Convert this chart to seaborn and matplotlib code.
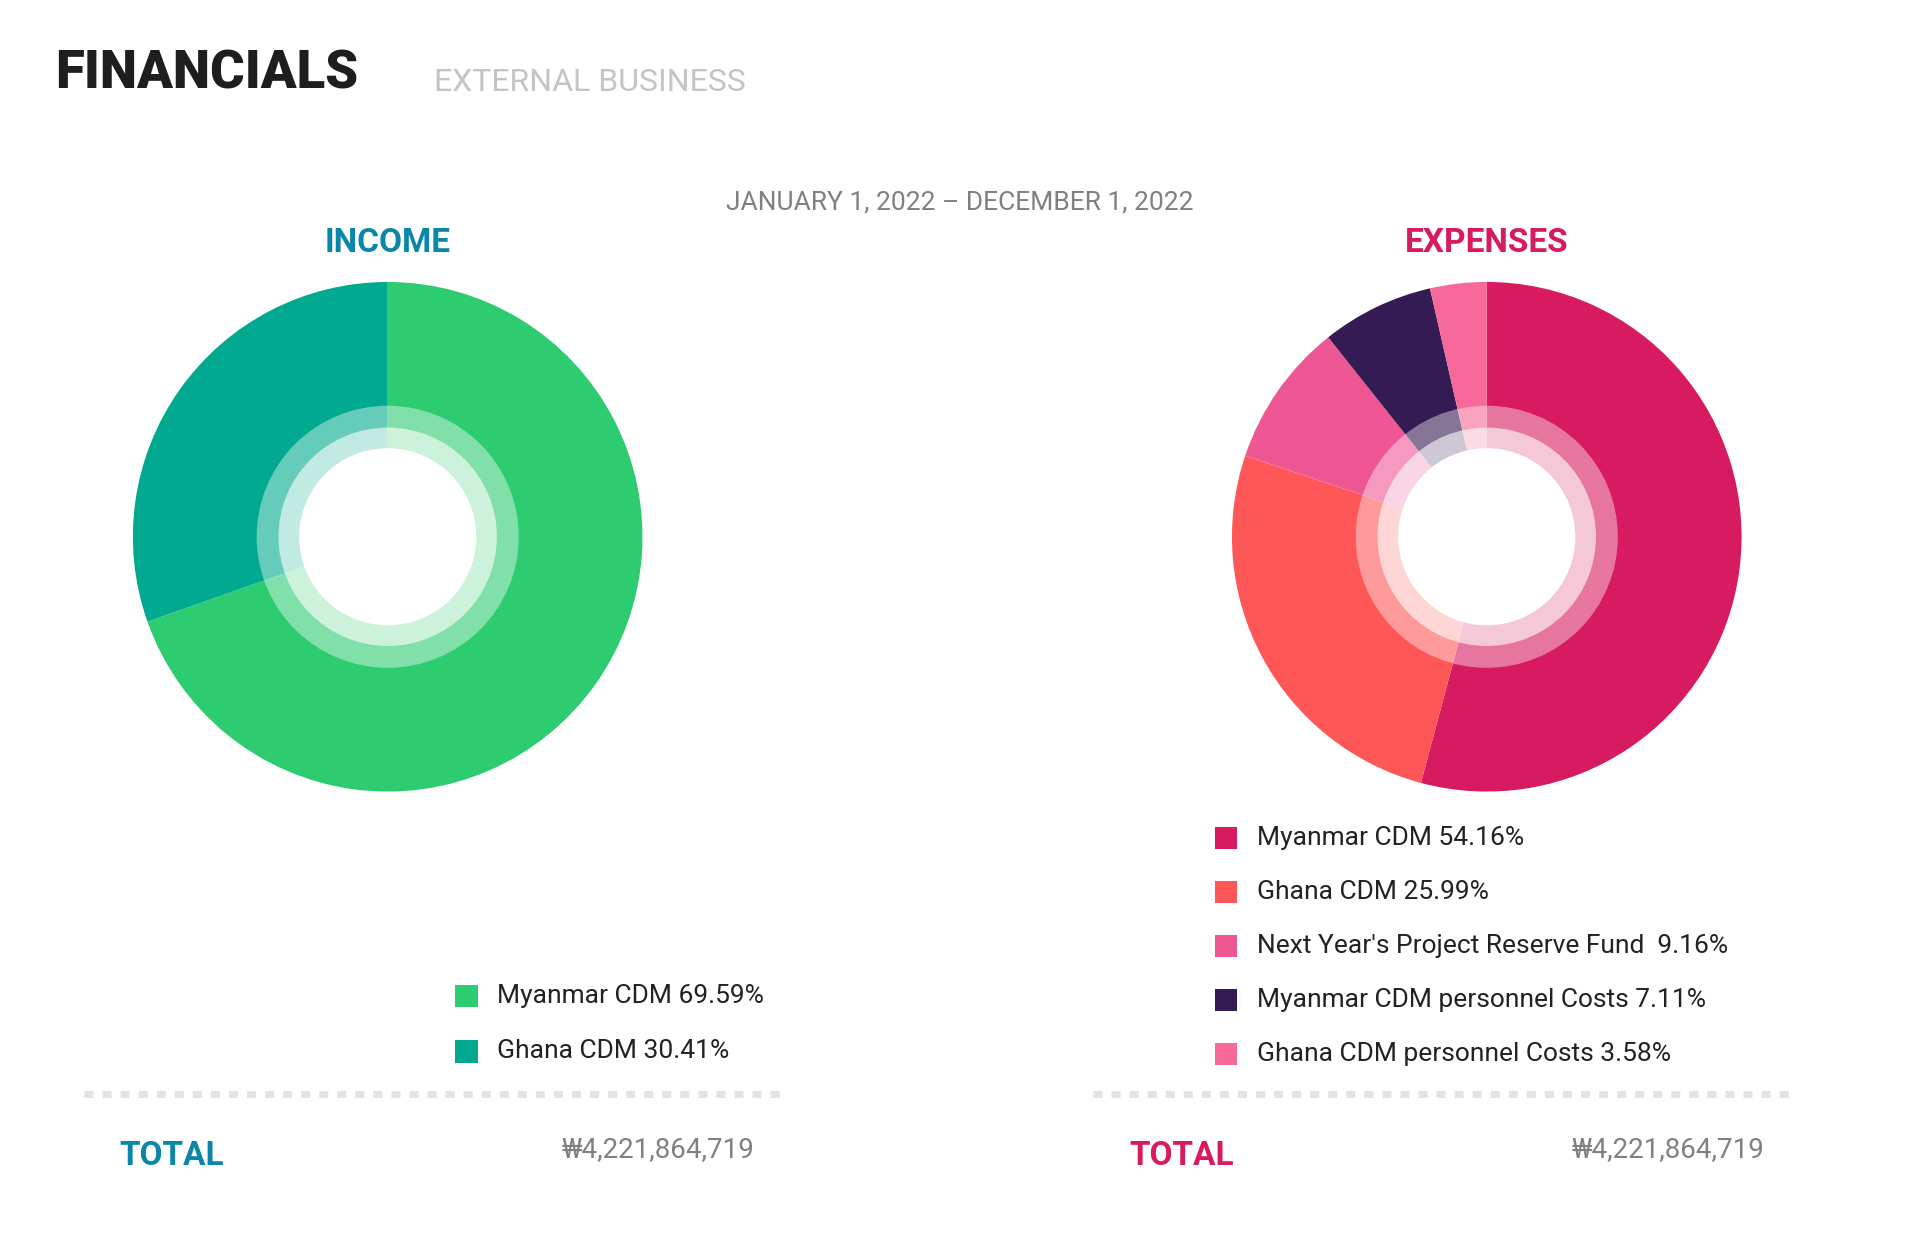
import matplotlib
matplotlib.use("Agg")
import matplotlib.pyplot as plt
import seaborn as sns
from matplotlib.patches import Circle, Rectangle

sns.set_theme(style="white")
plt.rcParams['font.family'] = ['Roboto', 'DejaVu Sans']

income_labels = ["Myanmar CDM", "Ghana CDM"]
income_values = [69.59, 30.41]
income_colors = ["#2ecc71", "#00a98f"]

expense_labels = ["Myanmar CDM", "Ghana CDM", "Next Year's Project Reserve Fund ",
                  "Myanmar CDM personnel Costs", "Ghana CDM personnel Costs"]
expense_values = [54.16, 25.99, 9.16, 7.11, 3.58]
expense_colors = ["#d81b60", "#ff5757", "#ef5794", "#341b54", "#f7699a"]

total_income = "₩4,221,864,719"
total_expense = "₩4,221,864,719"

W, H = 1560, 1020  # layout reference grid
fig = plt.figure(figsize=(19.2, 12.5), dpi=100)
fig.patch.set_facecolor("white")

def fx(x): return x / W
def fy(y): return 1 - y / H

def donut(cx, cy, values, colors):
    r = 210
    w = 2 * r / W
    h = 2 * r / H
    ax = fig.add_axes([fx(cx) - w / 2, fy(cy) - h / 2, w, h])
    ax.pie(values, colors=colors, startangle=90, counterclock=False,
           radius=1, wedgeprops=dict(linewidth=0))
    ax.add_patch(Circle((0, 0), 108 / 210, color="white", alpha=0.4, lw=0))
    ax.add_patch(Circle((0, 0), 90 / 210, color="white", alpha=0.6, lw=0))
    ax.add_patch(Circle((0, 0), 73 / 210, color="white", alpha=1, lw=0))
    ax.set_xlim(-1.01, 1.01)
    ax.set_ylim(-1.01, 1.01)
    ax.set_aspect("equal")
    ax.axis("off")

donut(315, 438, income_values, income_colors)
donut(1208, 438, expense_values, expense_colors)

fig.text(fx(45), fy(60), "FINANCIALS", fontsize=38, fontweight="black",
         color="#1e1e1e", va="center")
fig.text(fx(353), fy(67), "EXTERNAL BUSINESS", fontsize=23, color="#c4c4c4", va="center")
fig.text(fx(780), fy(165), "JANUARY 1, 2022 – DECEMBER 1, 2022", fontsize=19,
         color="#808080", ha="center", va="center")
fig.text(fx(315), fy(198), "INCOME", fontsize=24, fontweight="bold",
         color="#0a86aa", ha="center", va="center")
fig.text(fx(1208), fy(198), "EXPENSES", fontsize=24, fontweight="bold",
         color="#d81b60", ha="center", va="center")

def legend(x, y0, dy, labels, values, colors):
    for i, (lab, v, c) in enumerate(zip(labels, values, colors)):
        y = y0 + i * dy
        fig.patches.append(Rectangle((fx(x), fy(y + 9)), 18 / W, 18 / H,
                                     transform=fig.transFigure, color=c, lw=0))
        fig.text(fx(x + 34), fy(y), f"{lab} {v:.2f}%", fontsize=19,
                 color="#222222", va="center")

legend(370, 813, 45, income_labels, income_values, income_colors)
legend(987, 684, 44, expense_labels, expense_values, expense_colors)

for x0, x1 in [(68, 640), (888, 1460)]:
    fig.add_artist(plt.Line2D([fx(x0), fx(x1)], [fy(893), fy(893)],
                              transform=fig.transFigure, color="#e3e3e3",
                              lw=5, linestyle=(0, (1.3, 1.3))))

fig.text(fx(97), fy(943), "TOTAL", fontsize=24, fontweight="bold",
         color="#0a86aa", va="center")
fig.text(fx(613), fy(938), total_income, fontsize=20, color="#808080",
         ha="right", va="center")
fig.text(fx(918), fy(943), "TOTAL", fontsize=24, fontweight="bold",
         color="#d81b60", va="center")
fig.text(fx(1434), fy(938), total_expense, fontsize=20, color="#808080",
         ha="right", va="center")

fig.savefig("out.png", dpi=100, facecolor="white")
